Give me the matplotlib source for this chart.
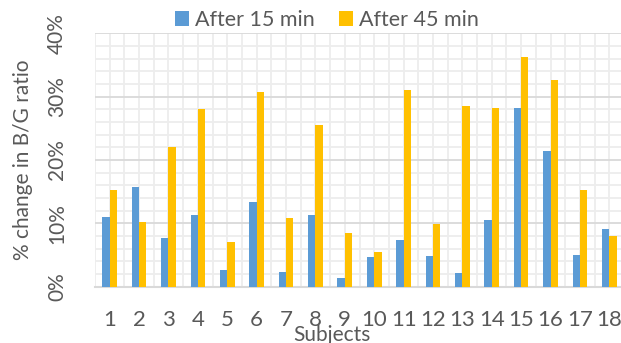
import matplotlib
matplotlib.use("Agg")
import matplotlib.pyplot as plt
from matplotlib.ticker import MultipleLocator, FuncFormatter

subjects = [str(i) for i in range(1, 19)]
after_15 = [11.0, 15.7, 7.7, 11.3, 2.6, 13.3, 2.3, 11.3, 1.3,
            4.7, 7.3, 4.9, 2.2, 10.5, 28.2, 21.4, 5.0, 9.1]
after_45 = [15.3, 10.2, 22.0, 28.0, 7.1, 30.7, 10.8, 25.5, 8.5,
            5.5, 31.0, 9.9, 28.5, 28.2, 36.3, 32.6, 15.2, 8.0]

txt = '#595959'
plt.rcParams['font.family'] = ['Lato', 'DejaVu Sans']

fig = plt.figure(figsize=(6.21, 3.43), dpi=100)
ax = fig.add_axes([95 / 621, 1 - 286.7 / 343, 529 / 621, 253.4 / 343])

x = list(range(len(subjects)))
w = 0.25
ax.bar([i - w / 2 for i in x], after_15, w, color='#5B9BD5', label='After 15 min', zorder=3)
ax.bar([i + w / 2 for i in x], after_45, w, color='#FFC000', label='After 45 min', zorder=3)

ax.set_xlim(-0.5, len(subjects) - 0.5)
ax.set_ylim(0, 40)
ax.set_xticks(x)
ax.set_xticklabels(subjects)
ax.xaxis.set_minor_locator(MultipleLocator(0.5))
ax.yaxis.set_major_locator(MultipleLocator(10))
ax.yaxis.set_minor_locator(MultipleLocator(2))
ax.yaxis.set_major_formatter(FuncFormatter(lambda v, p: '%d%%' % v))

# excel style grid: light minor cells, darker major rows
ax.grid(which='minor', color='#EDEDED', linewidth=1.3, zorder=0)
ax.grid(which='major', axis='y', color='#D9D9D9', linewidth=1.3, zorder=1)
ax.grid(which='major', axis='x', color='#EDEDED', linewidth=1.3, zorder=0)

for s in ['top', 'right', 'left']:
    ax.spines[s].set_visible(False)
ax.spines['bottom'].set_color('#D9D9D9')
ax.spines['bottom'].set_linewidth(1.5)
ax.tick_params(which='both', length=0)
ax.tick_params(axis='x', labelsize=16, colors=txt, pad=17)
ax.tick_params(axis='y', labelsize=15, colors=txt, pad=20)
for lab in ax.get_yticklabels():
    lab.set_rotation(90)
    lab.set_va('center')

ax.set_ylabel('% change in B/G ratio', fontsize=15, color=txt, labelpad=10)
fig.text(332 / 621, 1 - 335 / 343, 'Subjects', fontsize=15, color=txt,
         ha='center', va='center')

ax.legend(loc='center', bbox_to_anchor=(327 / 621, 1 - 20 / 343),
          bbox_transform=fig.transFigure, ncol=2, frameon=False,
          fontsize=15.5, labelcolor=txt, handlelength=0.65, handleheight=0.65,
          handletextpad=0.3, columnspacing=1.1)

fig.savefig('out.png', dpi=100)
